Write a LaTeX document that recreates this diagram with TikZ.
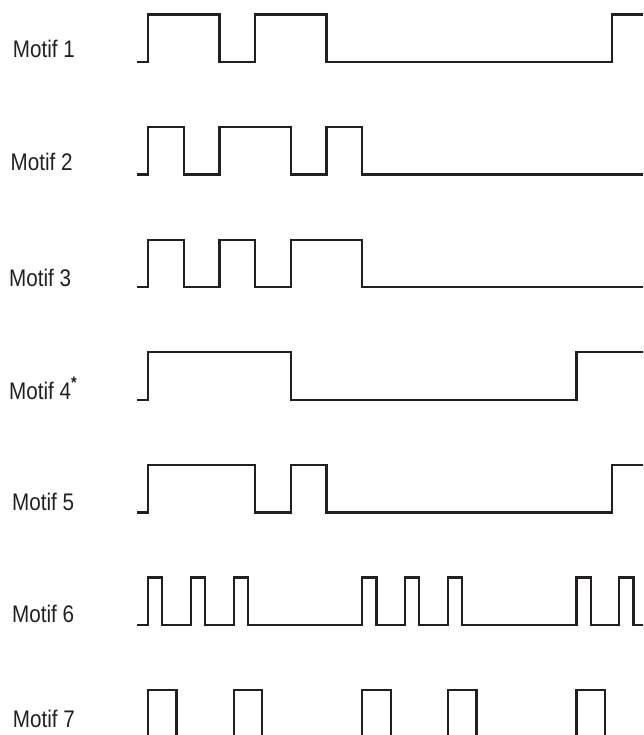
\documentclass[tikz,border=0pt]{standalone}
\usepackage{fontspec}
\setmainfont{Liberation Sans}[FakeStretch=0.86]
\usepackage{xcolor}
\usepackage{tikz}
\definecolor{inkdark}{HTML}{231F20}
\tikzstyle{wave}=[
draw=inkdark,
line width=2.3pt,
line join=miter
]
\tikzstyle{motiflabel}=[
anchor=base west,
inner sep=0pt,
text=inkdark,
font=\fontsize{24}{27}\selectfont
]

\begin{document}
\begin{tikzpicture}[x=1pt,y=1pt]
\useasboundingbox (0,0) rectangle (643,-735);
\clip (0,0) rectangle (643,-735);

% labels, one per row
\node (m1) [motiflabel] at (12.7,-57.3) {Motif 1};
\node (m2) [motiflabel] at (10.5,-171) {Motif 2};
\node (m3) [motiflabel] at (9,-286) {Motif 3};
\node (m4) [motiflabel] at (9,-399) {Motif 4\raisebox{1pt}{\textsuperscript{\textbf{*}}}};
\node (m5) [motiflabel] at (12,-510) {Motif 5};
\node (m6) [motiflabel] at (12,-622) {Motif 6};
\node (m7) [motiflabel] at (12.7,-727) {Motif 7};

% waveforms, x in time units
\begin{scope}[xshift=148pt,x=35.7pt]
\draw [wave] (-0.3,-62) -- (0,-62) -- (0,-14.5) -- (2,-14.5) -- (2,-62) -- (3,-62)
  -- (3,-14.5) -- (5,-14.5) -- (5,-62) -- (13,-62) -- (13,-14.5) -- (14,-14.5);
\draw [wave] (-0.3,-174.6) -- (0,-174.6) -- (0,-127.1) -- (1,-127.1) -- (1,-174.6)
  -- (2,-174.6) -- (2,-127.1) -- (4,-127.1) -- (4,-174.6) -- (5,-174.6)
  -- (5,-127.1) -- (6,-127.1) -- (6,-174.6) -- (14,-174.6);
\draw [wave] (-0.3,-287.2) -- (0,-287.2) -- (0,-239.7) -- (1,-239.7) -- (1,-287.2)
  -- (2,-287.2) -- (2,-239.7) -- (3,-239.7) -- (3,-287.2) -- (4,-287.2)
  -- (4,-239.7) -- (6,-239.7) -- (6,-287.2) -- (14,-287.2);
\draw [wave] (-0.3,-399.8) -- (0,-399.8) -- (0,-352.3) -- (4,-352.3) -- (4,-399.8)
  -- (12,-399.8) -- (12,-352.3) -- (14,-352.3);
\draw [wave] (-0.3,-512.4) -- (0,-512.4) -- (0,-464.9) -- (3,-464.9) -- (3,-512.4)
  -- (4,-512.4) -- (4,-464.9) -- (5,-464.9) -- (5,-512.4) -- (13,-512.4)
  -- (13,-464.9) -- (14,-464.9);
\draw [wave] (-0.3,-625) foreach \p in {0,1.2,2.4,6,7.2,8.4,12,13.2} {
  -- (\p,-625) -- (\p,-577.5) -- ({\p+0.4},-577.5) -- ({\p+0.4},-625) } -- (14,-625);
\foreach \p in {0,2.4,6,8.4,12}
  \draw [wave] (\p,-750) -- (\p,-690.1) -- ({\p+0.8},-690.1) -- ({\p+0.8},-750);
\end{scope}

\end{tikzpicture}
\end{document}
